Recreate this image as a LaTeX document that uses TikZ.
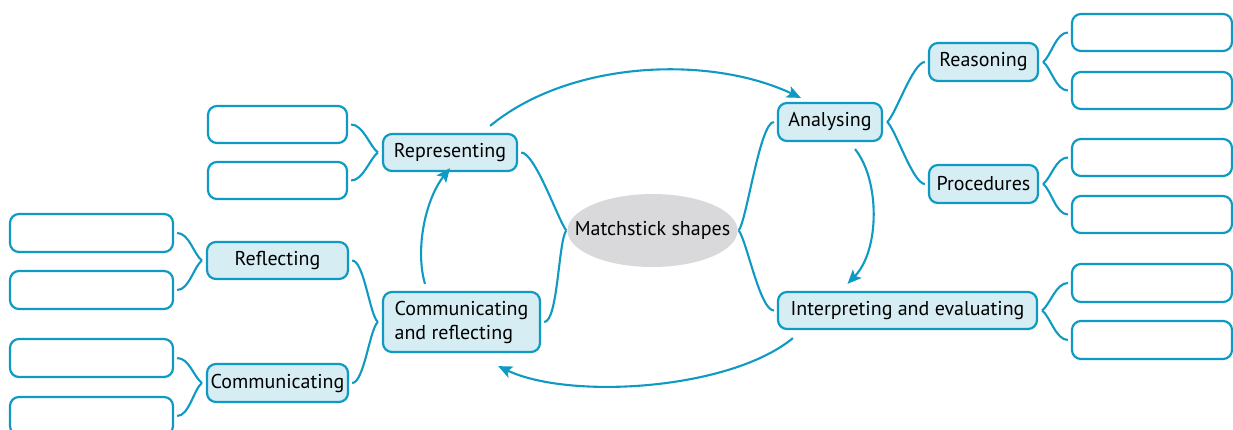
\documentclass[tikz,border=0pt]{standalone}
\usepackage{fontspec}
\setmainfont{PT Sans}
\usetikzlibrary{shapes.geometric,arrows.meta}
\definecolor{lb}{HTML}{0E9AC3}
\definecolor{lf}{HTML}{D7EDF4}
\definecolor{gr}{HTML}{D9D9DB}
\begin{document}
\begin{tikzpicture}[x=1pt,y=-1pt,
  box/.style={draw=lb, line width=2.2pt, fill=lf, rounded corners=9pt, inner sep=0pt, font=\fontsize{20}{24}\selectfont, text=black},
  empty/.style={draw=lb, line width=2.2pt, fill=white, rounded corners=9pt, inner sep=0pt},
  link/.style={draw=lb, line width=2.1pt},
  arr/.style={link, -{Stealth[length=14pt,width=12pt,inset=3pt]}}]
\useasboundingbox (0,0) rectangle (1233,429);
\begin{scope}
\clip (0,0) rectangle (1233,429);
% central
\node[ellipse, fill=gr, minimum width=170, minimum height=73, inner xsep=-18pt, inner ysep=0pt, font=\fontsize{20}{24}\selectfont, text=black] (mid) at (652.5,230.5) {Matchstick shapes};
% main boxes
\node[box, minimum width=134, minimum height=37] (rep) at (450,152.5) {Representing};
\node[box, minimum width=104, minimum height=38] (ana) at (830,122) {Analysing};
\node[box, minimum width=259, minimum height=37] (int) at (907.5,310.5) {Interpreting and evaluating};
\node[box, minimum width=157, minimum height=60, align=left] (cr) at (461.5,322) {Communicating\\and reflecting};
% sub boxes
\node[box, minimum width=109, minimum height=38] (rea) at (983.5,62) {Reasoning};
\node[box, minimum width=109, minimum height=38] (pro) at (983.5,184) {Procedures};
\node[box, minimum width=141, minimum height=37] (ref) at (277.5,260.5) {Reflecting};
\node[box, minimum width=141, minimum height=38] (com) at (277.5,383) {Communicating};
% empty boxes
\node[empty, minimum width=139, minimum height=37] (e1) at (277.5,124.5) {};
\node[empty, minimum width=139, minimum height=37] (e2) at (277.5,180.5) {};
\node[empty, minimum width=160, minimum height=37] (r1) at (1152,32.5) {};
\node[empty, minimum width=160, minimum height=37] (r2) at (1152,90.5) {};
\node[empty, minimum width=160, minimum height=37] (r3) at (1152,157.5) {};
\node[empty, minimum width=160, minimum height=37] (r4) at (1152,214.5) {};
\node[empty, minimum width=160, minimum height=38] (r5) at (1152,283) {};
\node[empty, minimum width=160, minimum height=38] (r6) at (1152,340) {};
\node[empty, minimum width=163, minimum height=38] (l1) at (91.5,233) {};
\node[empty, minimum width=163, minimum height=38] (l2) at (91.5,290) {};
\node[empty, minimum width=163, minimum height=38] (l3) at (91.5,358) {};
\node[empty, minimum width=163, minimum height=38] (l4) at (91.5,416) {};
% forks (left side: boxes -> node west)
\foreach \a/\b in {e1/rep, l1/ref, l3/com, ref/cr}
  \draw[link] ([xshift=3]\a.east) .. controls +(12,0) and +(-8,-6) .. ([xshift=-4]\b.west);
\foreach \a/\b in {e2/rep, l2/ref, l4/com, com/cr}
  \draw[link] ([xshift=3]\a.east) .. controls +(12,0) and +(-8,6) .. ([xshift=-4]\b.west);
% forks (right side: node east -> boxes)
\foreach \a/\b in {ana/rea, rea/r1, pro/r3, int/r5}
  \draw[link] ([xshift=4]\a.east) .. controls +(8,-6) and +(-12,0) .. ([xshift=-3]\b.west);
\foreach \a/\b in {ana/pro, rea/r2, pro/r4, int/r6}
  \draw[link] ([xshift=4]\a.east) .. controls +(8,6) and +(-12,0) .. ([xshift=-3]\b.west);
% central links
\draw[link] ([xshift=3]rep.east) .. controls +(14,0) and +(-8,-10) .. ([xshift=-1]mid.west);
\draw[link] ([xshift=3]cr.east) .. controls +(14,0) and +(-8,10) .. ([xshift=-1]mid.west);
\draw[link] ([xshift=1]mid.east) .. controls +(8,-10) and +(-14,0) .. ([xshift=-3]ana.west);
\draw[link] ([xshift=1]mid.east) .. controls +(8,10) and +(-14,0) .. ([xshift=-3]int.west);
% cycle arrows
\draw[arr] ([shift={(-28,-7)}]rep.north east) .. controls (570,60) and (710,55) .. ([shift={(24,-4)}]ana.north west);
\draw[arr] ([shift={(25,7)}]ana.south) .. controls (880,180) and (880,250) .. ([shift={(-60,-7)}]int.north);
\draw[arr] ([shift={(16,8)}]int.south west) .. controls (730,390) and (570,400) .. ([shift={(-43,13)}]cr.south east);
\draw[arr] ([shift={(-36.5,-7)}]cr.north) .. controls (415,250) and (425,200) .. ([yshift=4]rep.south);
\end{scope}
\end{tikzpicture}
\end{document}
